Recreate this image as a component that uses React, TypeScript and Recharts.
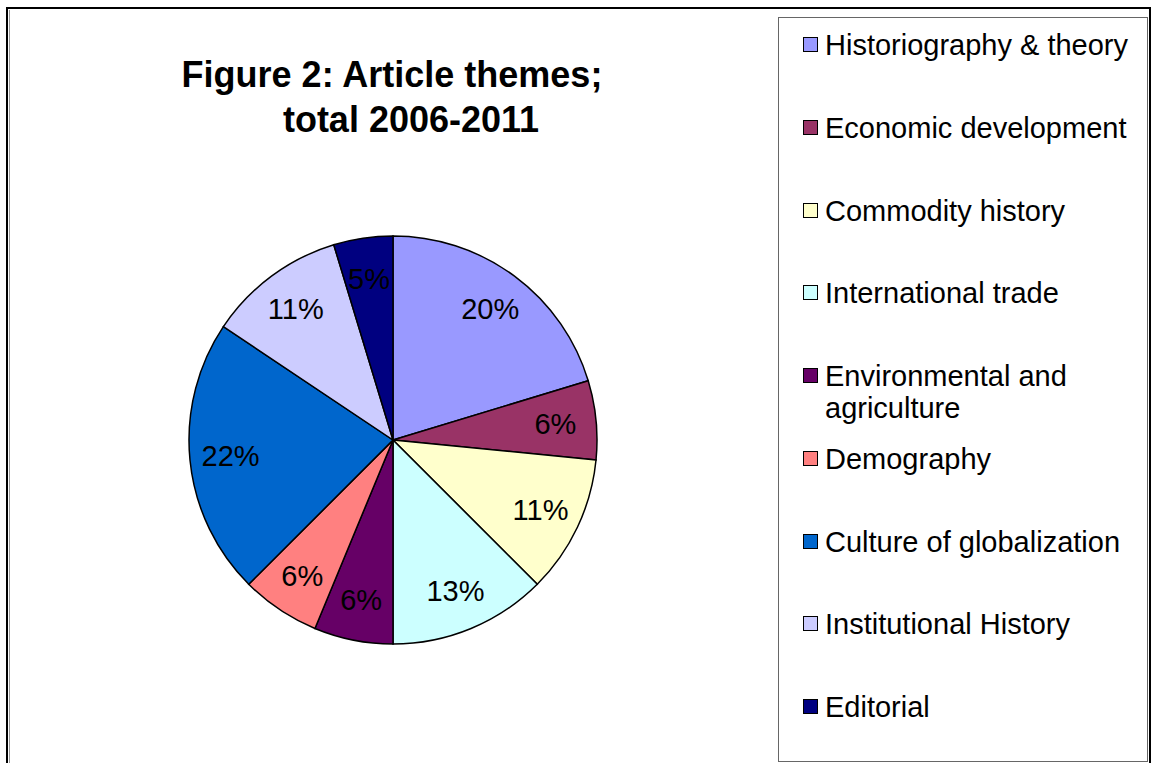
import { PieChart, Pie, Cell, Legend } from "recharts";

const THEMES = [
  "Historiography & theory",
  "Economic development",
  "Commodity history",
  "International trade",
  "Environmental and agriculture",
  "Demography",
  "Culture of globalization",
  "Institutional History",
  "Editorial",
];

// article counts per theme, 2006-2011 (64 in total)
const ARTICLES = [13, 4, 7, 8, 4, 4, 14, 7, 3];

const COLORS = [
  "#9999FF",
  "#993366",
  "#FFFFCC",
  "#CCFFFF",
  "#660066",
  "#FF8080",
  "#0066CC",
  "#CCCCFF",
  "#000080",
];

const TITLE_LINES = ["Figure 2: Article themes;", "total 2006-2011"];

const FONT = '"Liberation Sans", Arial, sans-serif';
const RAD = Math.PI / 180;

const data = THEMES.map((name, i) => ({ name, value: ARTICLES[i] }));

function renderLabel(props: any) {
  const { cx, cy, midAngle, outerRadius, percent } = props;
  const r = outerRadius * 0.8;
  const x = cx + r * Math.cos(-midAngle * RAD);
  const y = cy + r * Math.sin(-midAngle * RAD);
  return (
    <text
      x={x}
      y={y}
      fill="#000"
      fontSize={29}
      fontFamily={FONT}
      textAnchor="middle"
      dominantBaseline="central"
    >
      {`${Math.round(percent * 100)}%`}
    </text>
  );
}

function LegendBox() {
  return (
    <div
      style={{
        width: 370,
        height: 745,
        boxSizing: "border-box",
        border: "1px solid #666",
        background: "#fff",
        position: "relative",
        fontFamily: FONT,
      }}
    >
      {THEMES.map((name, i) => (
        <div
          key={name}
          style={{
            position: "absolute",
            left: 24,
            top: 11 + i * 82.75,
            display: "flex",
            alignItems: "flex-start",
          }}
        >
          <span
            style={{
              width: 13,
              height: 13,
              border: "1.5px solid #000",
              background: COLORS[i],
              marginTop: 8,
              marginRight: 7,
              flexShrink: 0,
            }}
          />
          <span
            style={{
              fontSize: 29,
              lineHeight: "32px",
              color: "#000",
              width: 315,
            }}
          >
            {name}
          </span>
        </div>
      ))}
    </div>
  );
}

export default function App() {
  return (
    <div
      style={{
        position: "absolute",
        left: 0,
        top: 0,
        width: 1151,
        height: 763,
        overflow: "hidden",
        background: "#fff",
      }}
    >
      <div
        style={{
          position: "absolute",
          left: 6,
          top: 7,
          width: 1145,
          height: 800,
          boxSizing: "border-box",
          border: "2px solid #000",
        }}
      />
      <div
        style={{
          position: "absolute",
          left: 9,
          top: 10,
          width: 1,
          height: 760,
          background: "#999",
        }}
      />

      {TITLE_LINES.map((line, i) => (
        <div
          key={line}
          style={{
            position: "absolute",
            left: i === 0 ? 392 - 300 : 411 - 300,
            width: 600,
            top: 55 + i * 45,
            textAlign: "center",
            fontFamily: FONT,
            fontWeight: "bold",
            fontSize: 36,
            lineHeight: "40px",
            color: "#000",
          }}
        >
          {line}
        </div>
      ))}

      <div style={{ position: "absolute", left: 0, top: 0 }}>
        <PieChart
          width={1151}
          height={763}
          margin={{ top: 0, right: 0, bottom: 0, left: 0 }}
        >
          <Pie
            data={data}
            dataKey="value"
            nameKey="name"
            cx={393}
            cy={440}
            outerRadius={204}
            startAngle={90}
            endAngle={-270}
            stroke="#000"
            strokeWidth={1.5}
            label={renderLabel}
            labelLine={false}
            isAnimationActive={false}
          >
            {data.map((_, index) => (
              <Cell key={index} fill={COLORS[index % COLORS.length]} />
            ))}
          </Pie>
          <Legend
            layout="vertical"
            align="right"
            verticalAlign="middle"
            content={() => <LegendBox />}
            wrapperStyle={{
              position: "absolute",
              left: 778,
              top: 17,
              width: 370,
              height: 745,
            }}
          />
        </PieChart>
      </div>
    </div>
  );
}
